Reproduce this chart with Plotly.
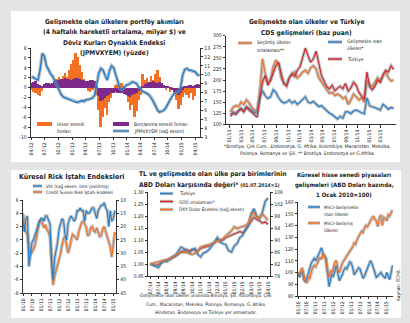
import pandas as pd
import plotly.graph_objects as go

W, H = 410, 323
FONT = "Liberation Sans Narrow, DejaVu Sans Condensed, Arial Narrow, sans-serif"

ORANGE = "#f36f21"
PURPLE = "#7d2b8b"
BLUE = "#1e7fd0"
RED = "#d2232a"
HALO = "rgba(140,140,140,0.55)"
INK = "#222222"

# ---------------- Portföy akımları (2 haftalık gözlemler, milyar $) ----------------
flow_dates = pd.date_range("2012-04-06", periods=81, freq="14D")
equity_flows = [
    -0.5, -0.8, -1.0, -1.5, -1.8, -0.6, 0.3, 0.6, 0.8, 0.5,
    0.7, 1.2, 1.8, 2.2, 1.6, 2.4, 3.0, 2.2, 3.5, 4.8,
    5.5, 7.0, 6.2, 4.5, 3.2, 1.8, 0.5, -0.6, -0.8, -0.5,
    1.2, -1.5, -4.5, -8.0, -6.0, -4.2, -5.5, -3.0, -2.2, -1.0,
    0.5, 0.8, 0.4, 1.0, 0.3, -1.2, -3.0, -4.5, -3.5, -6.0,
    -4.8, -2.5, -1.5, 2.8, 1.5, 2.0, 1.2, 2.4, 1.5, 2.8,
    3.5, 2.2, 1.0, 0.3, -0.5, 0.4, -0.8, -0.4, -1.2, -2.5,
    -4.3, -3.6, -2.0, -1.0, -1.5, -2.2, -1.2, -2.5, -1.8, 0.6,
    0.8,
]
bond_flows = [
    1.0, 1.2, 1.3, 0.8, 0.5, 0.4, 0.7, 0.9, 1.0, 0.8,
    1.0, 1.3, 1.5, 1.6, 1.8, 1.7, 1.9, 1.8, 1.7, 1.6,
    1.8, 2.0, 1.9, 1.7, 1.5, 1.6, 1.4, 1.3, 1.5, 1.6,
    1.4, 0.2, -1.8, -2.8, -2.6, -2.2, -1.8, -1.5, -1.2, -1.0,
    -0.9, -1.0, -1.2, -1.1, -1.3, -1.5, -1.8, -2.0, -1.6, -1.4,
    -1.0, -0.6, -0.3, 0.4, 0.8, 1.0, 1.2, 1.1, 1.3, 1.2,
    1.0, 1.1, 0.9, 0.6, 0.4, 0.2, -0.2, -0.5, -0.8, -1.2,
    -1.5, -1.0, -0.4, 0.2, 0.4, 0.5, 0.6, 0.4, 0.5, 0.7,
    0.6,
]
jpmvxyem = [
    9.8, 9.6, 9.5, 9.4, 10.6, 12.4, 12.1, 11.0, 10.5, 10.1,
    9.8, 9.3, 8.7, 8.2, 7.8, 7.5, 7.4, 7.3, 7.2, 7.1,
    7.0, 6.9, 6.9, 7.0, 7.1, 7.0, 7.2, 7.2, 7.3, 7.4,
    7.7, 8.8, 10.2, 10.7, 10.5, 9.9, 9.4, 10.4, 11.0, 10.8,
    10.1, 9.2, 8.5, 8.3, 8.6, 8.8, 8.9, 9.0, 9.2, 9.1,
    9.0, 8.6, 8.3, 8.1, 8.0, 7.9, 7.7, 7.4, 7.0, 6.5,
    6.0, 5.8, 5.9, 6.0, 6.3, 6.8, 7.2, 7.6, 7.9, 8.0,
    8.1, 8.6, 10.0, 10.6, 10.7, 10.5, 10.5, 10.4, 10.3, 10.0,
    9.9,
]
flow_ticks = pd.date_range("2012-04-01", "2015-04-01", freq="3MS")
flow_left_ticks = list(range(-10, 9, 2))
flow_right_ticks = list(range(3, 14))

# ---------------- CDS (baz puan, 2 haftalık) ----------------
cds_dates = pd.date_range("2013-01-04", periods=62, freq="14D")
cds_selected = [
    128, 138, 142, 140, 150, 145, 155, 148, 138, 132,
    130, 175, 248, 215, 195, 200, 230, 245, 236, 205,
    192, 190, 205, 212, 218, 205, 210, 218, 222, 215,
    228, 232, 225, 205, 195, 185, 178, 170, 172, 165,
    168, 165, 158, 162, 145, 155, 168, 162, 155, 160,
    150, 200, 190, 185, 195, 205, 198, 210, 218, 205,
    198, 200,
]
cds_em = [
    122, 128, 126, 132, 136, 130, 140, 136, 130, 126,
    128, 160, 176, 165, 158, 162, 178, 172, 160, 152,
    148, 150, 155, 148, 152, 145, 150, 155, 162, 150,
    148, 152, 145, 140, 142, 136, 130, 125, 122, 118,
    112, 118, 114, 128, 128, 124, 130, 132, 128, 126,
    124, 160, 142, 140, 138, 135, 132, 145, 140, 134,
    138, 136,
]
cds_turkey = [
    118, 125, 122, 130, 135, 128, 138, 132, 126, 120,
    116, 160, 195, 210, 188, 200, 215, 232, 240, 212,
    192, 186, 205, 215, 208, 222, 230, 250, 272, 255,
    240, 248, 265, 238, 210, 198, 185, 180, 188, 176,
    182, 186, 180, 192, 175, 182, 195, 188, 172, 165,
    156, 218, 185, 178, 186, 200, 195, 212, 222, 218,
    232, 224,
]
cds_ticks = pd.date_range("2013-01-01", "2015-03-01", freq="2MS")
cds_y_ticks = list(range(100, 301, 25))

# ---------------- Risk iştahı (aylık) ----------------
risk_dates = pd.date_range("2010-01-01", periods=62, freq="MS")
cs_risk = [
    4.0, 1.5, 1.2, 0.8, -1.2, -2.3, -1.8, -1.5, -0.8, 0.3,
    1.5, 2.8, 3.0, 2.2, 1.8, 2.3, 1.5, 1.2, 0.5, -3.0,
    -6.8, -5.5, -4.6, -4.0, -3.2, -2.0, -0.8, 0.2, 0.5, -1.0,
    -2.0, -1.2, 0.2, 0.8, 0.6, 0.2, 0.0, 1.2, 2.0, 2.6,
    2.8, 2.4, 2.0, 0.6, 0.8, 1.8, 2.0, 1.4, 1.2, 1.8,
    1.0, 0.5, 0.6, 1.6, 2.0, 1.2, 0.8, 0.0, -1.0, -2.6,
    -1.0, 1.2,
]
vix = [
    18, 22, 17, 16, 35, 30, 26, 25, 23, 21,
    19, 18, 17, 17, 18, 16, 16, 18, 19, 33,
    40, 32, 29, 26, 21, 19, 17, 18, 23, 25,
    19, 17, 16, 17, 18, 17, 14, 14, 13, 14,
    14, 18, 14, 15, 15, 14, 13, 13, 15, 17,
    14, 13, 12, 12, 11, 13, 14, 20, 14, 18,
    17, 14,
]
semiannual_ticks = pd.date_range("2010-01-01", "2015-01-01", freq="6MS")
risk_left_ticks = list(range(-8, 7, 2))
risk_right_ticks = list(range(10, 46, 5))

# ---------------- Kurlar (haftalık, 01.07.2014=1) ----------------
fx_dates = pd.date_range("2014-07-01", periods=43, freq="7D")
fx_turkey = [
    1.000, 0.995, 0.990, 0.985, 1.005, 1.015, 1.010, 1.020, 1.030, 1.035,
    1.050, 1.070, 1.065, 1.050, 1.045, 1.060, 1.065, 1.040, 1.030, 1.045,
    1.050, 1.060, 1.075, 1.090, 1.110, 1.090, 1.085, 1.080, 1.055, 1.050,
    1.075, 1.085, 1.110, 1.120, 1.145, 1.160, 1.210, 1.230, 1.200, 1.190,
    1.215, 1.260, 1.275,
]
fx_em_avg = [
    1.000, 0.998, 0.995, 0.998, 1.005, 1.012, 1.015, 1.018, 1.025, 1.030,
    1.040, 1.050, 1.055, 1.060, 1.055, 1.060, 1.058, 1.055, 1.065, 1.070,
    1.072, 1.075, 1.080, 1.090, 1.105, 1.095, 1.100, 1.110, 1.115, 1.120,
    1.125, 1.130, 1.135, 1.130, 1.140, 1.160, 1.180, 1.195, 1.185, 1.180,
    1.170, 1.175, 1.165,
]
dxy = [
    82.0, 82.2, 82.4, 82.6, 83.0, 83.2, 83.4, 83.8, 84.4, 84.8,
    85.6, 86.0, 85.8, 86.0, 85.6, 85.2, 85.6, 86.0, 87.6, 88.0,
    88.2, 88.4, 88.8, 89.2, 89.6, 90.2, 90.4, 91.4, 92.2, 93.0,
    94.4, 93.8, 94.2, 94.4, 94.8, 95.6, 98.0, 99.2, 97.6, 97.4,
    98.6, 97.6, 96.6,
]
fx_ticks = pd.date_range("2014-07-01", periods=15, freq="21D")
fx_left_ticks = [0.95, 1.00, 1.05, 1.10, 1.15, 1.20, 1.25, 1.30]
fx_right_ticks = list(range(78, 107, 4))

# ---------------- MSCI (aylık, 1 Ocak 2010=100) ----------------
msci_dates = pd.date_range("2010-01-01", periods=65, freq="MS")
msci_em = [
    100, 96, 99, 101, 94, 92, 95, 100, 104, 108,
    110, 112, 110, 113, 115, 118, 121, 116, 114, 112,
    100, 88, 94, 98, 97, 103, 106, 99, 93, 96,
    98, 102, 104, 103, 107, 109, 108, 104, 98, 100,
    102, 104, 103, 98, 95, 97, 101, 104, 107, 110,
    108, 104, 99, 96, 97, 99, 100, 98, 96, 95,
    100, 97, 94, 100, 106,
]
msci_dev = [
    100, 98, 102, 104, 98, 93, 91, 96, 95, 101,
    104, 106, 105, 108, 110, 113, 111, 116, 114, 110,
    100, 96, 101, 100, 104, 109, 110, 102, 100, 105,
    108, 110, 112, 113, 116, 118, 120, 122, 125, 124,
    128, 131, 133, 135, 134, 138, 140, 139, 142, 144,
    146, 148, 145, 144, 139, 146, 149, 140, 147, 146,
    144, 149, 148, 151, 153,
]
msci_y_ticks = list(range(80, 161, 10))

TITLE = 6.6
TICK = 5.0
SMALL = 4.8


def px(x):
    return x / W


def py(y):
    return 1 - y / H


def halo_line(x, y, color, xa, ya, width=1.2):
    """A coloured line drawn over a soft grey shadow of the same data."""
    return [
        go.Scatter(x=x, y=y, mode="lines", xaxis=xa, yaxis=ya, hoverinfo="skip",
                   line=dict(color=HALO, width=width + 2.2), showlegend=False),
        go.Scatter(x=x, y=y, mode="lines", xaxis=xa, yaxis=ya,
                   line=dict(color=color, width=width), showlegend=False),
    ]


fig = go.Figure()

# Panel A: flows (bars) + JPMVXYEM
fig.add_trace(go.Bar(x=flow_dates, y=equity_flows, xaxis="x", yaxis="y",
                     marker=dict(color=ORANGE, line=dict(width=0)),
                     width=13 * 86400000, showlegend=False))
fig.add_trace(go.Bar(x=flow_dates, y=bond_flows, xaxis="x", yaxis="y",
                     marker=dict(color=PURPLE, line=dict(width=0)),
                     width=13 * 86400000, showlegend=False))
for t in halo_line(flow_dates, jpmvxyem, BLUE, "x", "y2", 1.4):
    fig.add_trace(t)

# Panel B: CDS
for series, col in ((cds_selected, ORANGE), (cds_em, BLUE), (cds_turkey, RED)):
    for t in halo_line(cds_dates, series, col, "x2", "y3", 1.1):
        fig.add_trace(t)

# Panel C: risk appetite
for t in halo_line(risk_dates, cs_risk, ORANGE, "x3", "y4", 1.1):
    fig.add_trace(t)
for t in halo_line(risk_dates, vix, BLUE, "x3", "y5", 1.1):
    fig.add_trace(t)

# Panel D: currencies
for t in halo_line(fx_dates, dxy, ORANGE, "x4", "y7", 1.1):
    fig.add_trace(t)
for t in halo_line(fx_dates, fx_em_avg, RED, "x4", "y6", 1.1):
    fig.add_trace(t)
for t in halo_line(fx_dates, fx_turkey, BLUE, "x4", "y6", 1.1):
    fig.add_trace(t)

# Panel E: equity markets
for t in halo_line(msci_dates, msci_em, BLUE, "x5", "y8", 1.1):
    fig.add_trace(t)
for t in halo_line(msci_dates, msci_dev, ORANGE, "x5", "y8", 1.1):
    fig.add_trace(t)

axis_base = dict(showline=True, linecolor="#333333", linewidth=0.7, ticks="outside",
                 ticklen=2.5, tickwidth=0.6, tickcolor="#333333", showgrid=False,
                 zeroline=False, automargin=False,
                 tickfont=dict(size=TICK, color=INK, family=FONT))


def date_axis(domain, anchor, rng, ticks, fmt):
    return dict(axis_base, domain=[px(domain[0]), px(domain[1])], anchor=anchor,
                type="date", range=rng, tickmode="array", tickvals=list(ticks),
                ticktext=[d.strftime(fmt) for d in ticks], tickangle=-90)


def num_axis(domain, anchor, rng, ticks, fmt="{}", **kw):
    d = dict(axis_base, domain=[py(domain[1]), py(domain[0])], anchor=anchor, range=rng,
             tickmode="array", tickvals=ticks, ticktext=[fmt.format(v) for v in ticks])
    d.update(kw)
    return d


def num_overlay(over, anchor, rng, ticks, fmt="{}"):
    return dict(axis_base, overlaying=over, anchor=anchor, side="right", range=rng,
                tickmode="array", tickvals=ticks, ticktext=[fmt.format(v) for v in ticks])


fig.update_layout(
    width=W, height=H, margin=dict(l=0, r=0, t=0, b=0),
    template="none", paper_bgcolor="#e4e4e4", plot_bgcolor="rgba(0,0,0,0)",
    barmode="overlay", bargap=0, showlegend=False,
    font=dict(family=FONT, color=INK),
    xaxis=date_axis((31, 200), "y", ["2012-04-01", "2015-05-04"], flow_ticks, "%m/%y"),
    yaxis=num_axis((48, 137), "x", [-10, 8], flow_left_ticks),
    yaxis2=num_overlay("y", "x", [3, 13], flow_right_ticks),
    xaxis2=date_axis((226, 396), "y3", ["2012-12-12", "2015-05-20"], cds_ticks, "%m/%y"),
    yaxis3=num_axis((35.7, 124.3), "x2", [100, 300], cds_y_ticks),
    xaxis3=date_axis((23, 116), "y4", ["2010-01-01", "2015-02-25"], semiannual_ticks, "%m/%y"),
    yaxis4=num_axis((200, 293), "x3", [-8, 6], risk_left_ticks),
    yaxis5=num_overlay("y4", "x3", [45, 10], risk_right_ticks),
    xaxis4=date_axis((148, 270), "y6", ["2014-06-26", "2015-04-26"], fx_ticks, "%m/%y"),
    yaxis6=num_axis((192, 276), "x4", [0.95, 1.30], fx_left_ticks, "{:.2f}"),
    yaxis7=num_overlay("y6", "x4", [78, 106], fx_right_ticks),
    xaxis5=date_axis((298, 393), "y8", ["2010-01-01", "2015-05-10"], semiannual_ticks, "%m/%y"),
    yaxis8=num_axis((202, 296), "x5", [80, 160], msci_y_ticks),
)

shapes = [
    dict(type="rect", xref="paper", yref="paper", x0=px(11), x1=px(400), y0=py(162), y1=py(11),
         fillcolor="white", line=dict(width=0), layer="below"),
    dict(type="rect", xref="paper", yref="paper", x0=px(11), x1=px(401), y0=py(318), y1=py(170),
         fillcolor="white", line=dict(width=0), layer="below"),
]


def swatch_line(x0, x1, y, color):
    shapes.append(dict(type="line", xref="paper", yref="paper", x0=px(x0), x1=px(x1),
                       y0=py(y), y1=py(y), line=dict(color=HALO, width=3.4)))
    shapes.append(dict(type="line", xref="paper", yref="paper", x0=px(x0), x1=px(x1),
                       y0=py(y), y1=py(y), line=dict(color=color, width=1.4)))


def swatch_rect(x0, x1, y0, y1, color):
    shapes.append(dict(type="rect", xref="paper", yref="paper", x0=px(x0), x1=px(x1),
                       y0=py(y1), y1=py(y0), fillcolor=color, line=dict(width=0)))


annotations = []


def label(x, y, s, size=SMALL, bold=False, anchor="left", angle=0, color=INK):
    annotations.append(dict(x=px(x), y=py(y), xref="paper", yref="paper", showarrow=False,
                            text=f"<b>{s}</b>" if bold else s, xanchor=anchor,
                            yanchor="middle", textangle=angle,
                            font=dict(size=size, family=FONT, color=color)))


# Titles
for i, s in enumerate(["Gelişmekte olan ülkelere portföy akımları",
                       "(4 haftalık hareketli ortalama, milyar $) ve",
                       "Döviz Kurları Oynaklık Endeksi",
                       "(JPMVXYEM) (yüzde)"]):
    label(114, 22 + 10.4 * i, s, size=TITLE, bold=True, anchor="center")
label(306, 22, "Gelişmekte olan ülkeler ve Türkiye", size=TITLE, bold=True, anchor="center")
label(306, 32.5, "CDS gelişmeleri (baz puan)", size=TITLE, bold=True, anchor="center")
label(72, 176, "Küresel Risk İştahı Endeksleri", size=7.0, bold=True, anchor="center")
label(137, 174, "TL ve gelişmekte olan ülke para birimlerinin", size=TITLE, bold=True)
annotations.append(dict(x=px(137), y=py(184.5), xref="paper", yref="paper", showarrow=False,
                        xanchor="left", yanchor="middle",
                        text="<b>ABD Doları karşısında değeri*</b> <b><span style='font-size:5px'>(01.07.2014=1)</span></b>",
                        font=dict(size=TITLE, family=FONT, color=INK)))
for i, s in enumerate(["Küresel hisse senedi piyasaları",
                       "gelişmeleri (ABD Doları bazında,",
                       "1 Ocak 2010=100)"]):
    label(344, 175 + 9.5 * i, s, size=6.0, bold=True, anchor="center")

# Footnotes
label(307, 146, "*Brezilya, Çek Cum., Endonezya, G. Afrika, Kolombiya, Macaristan, Meksika,",
      size=4.9, anchor="center")
label(307, 154, "Polonya, Romanya ve Şili. ** Brezilya, Endonezya ve G.Afrika.",
      size=4.9, anchor="center")
for i, s in enumerate(["Gelişmekte olan ülkeler arasında Brezilya, Şili, Kolombiya, Çek",
                       "Cum., Macaristan, Meksika, Polonya, Romanya, G. Afrika,",
                       "Hindistan, Endonezya ve Türkiye yer almaktadır."]):
    label(206, 295.5 + 8.6 * i, s, size=4.7, anchor="center")
label(398, 286, "Kaynak: TCMB", size=4.8, anchor="center", angle=-90)

# Legends
swatch_rect(37, 52, 122, 126, ORANGE)
label(55, 124, "Hisse senedi")
label(55, 131, "fonları")
swatch_rect(113, 129, 122, 126, PURPLE)
label(132, 124, "Borçlanma senedi fonları")
swatch_line(113, 129, 131, BLUE)
label(132, 131, "JPMVXYEM (sağ eksen)")

swatch_line(238, 252, 43, ORANGE)
label(255, 43, "Seçilmiş ülkeler")
label(255, 50, "ortalaması**")
swatch_line(328, 342, 42, BLUE)
label(345, 42, "Gelişmekte olan")
label(345, 49, "ülkeler*")
swatch_line(328, 342, 59, RED)
label(345, 59, "Türkiye")

swatch_line(33, 42, 186, BLUE)
label(44, 186, "VIX (sağ eksen, ters çevrilmiş)", size=4.6)
swatch_line(33, 42, 192, ORANGE)
label(44, 192, "Credit Suisse Risk İştahı Endeksi", size=4.6)

swatch_line(160, 173, 193.5, BLUE)
label(177, 193.5, "Türkiye", size=4.7)
swatch_line(160, 173, 201.5, RED)
label(177, 201.5, "GOÜ ortalaması*", size=4.7)
swatch_line(160, 173, 209.5, ORANGE)
label(177, 209.5, "DXY Dolar Endeksi (sağ eksen)", size=4.7)

swatch_line(308, 320, 207, BLUE)
label(322, 207, "MSCI-Gelişmekte", size=4.5)
label(322, 213.5, "Olan Ülkeler", size=4.5)
swatch_line(308, 320, 223, ORANGE)
label(322, 223, "MSCI-Gelişmiş", size=4.5)
label(322, 229.5, "Ülkeler", size=4.5)

fig.update_layout(shapes=shapes, annotations=annotations)
fig.write_html("out.html")
